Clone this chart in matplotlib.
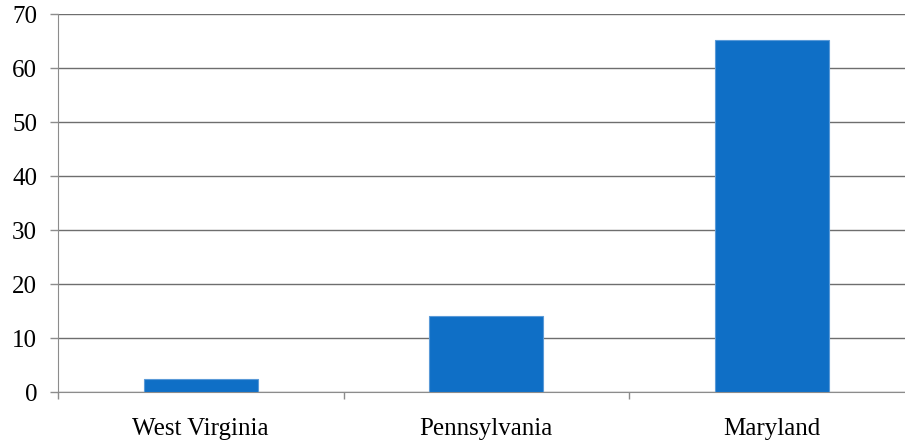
import numpy as np
import matplotlib
matplotlib.use('Agg')
import matplotlib.pyplot as plt

# Data
states = ['West Virginia', 'Pennsylvania', 'Maryland']
values = [2.5, 14.0, 65.1]
y_ticks = [0, 10, 20, 30, 40, 50, 60, 70]

plt.rcParams['font.family'] = ['Liberation Serif', 'DejaVu Serif']

fig = plt.figure(figsize=(9.05, 4.44), dpi=100)
ax = fig.add_axes([58 / 905, 52 / 444, 856.5 / 905, 378 / 444])

x = np.arange(len(states))
ax.bar(x, values, width=0.4, color='#0F6FC6', edgecolor='#5a9ad8',
       linewidth=0.8, zorder=3)

ax.set_xlim(-0.5, len(states) - 0.5)
ax.set_ylim(0, 70)
ax.set_yticks(y_ticks)
ax.set_yticklabels([str(t) for t in y_ticks], fontsize=18)

# category labels between the boundary ticks
ax.set_xticks(x)
ax.set_xticklabels(states, fontsize=18)
ax.tick_params(axis='x', which='major', length=0, pad=19)
ax.set_xticks(np.arange(-0.5, len(states)), minor=True)
ax.tick_params(axis='x', which='minor', length=5, color='#8c8c8c', width=1)
ax.tick_params(axis='y', length=6, color='#8c8c8c', width=1, pad=9)

ax.yaxis.grid(True, color='#6e6e6e', linewidth=1, zorder=0)
for s in ['top', 'right']:
    ax.spines[s].set_visible(False)
ax.spines['left'].set_color('#8c8c8c')
ax.spines['bottom'].set_color('#8c8c8c')

fig.savefig('out.png', dpi=100)
